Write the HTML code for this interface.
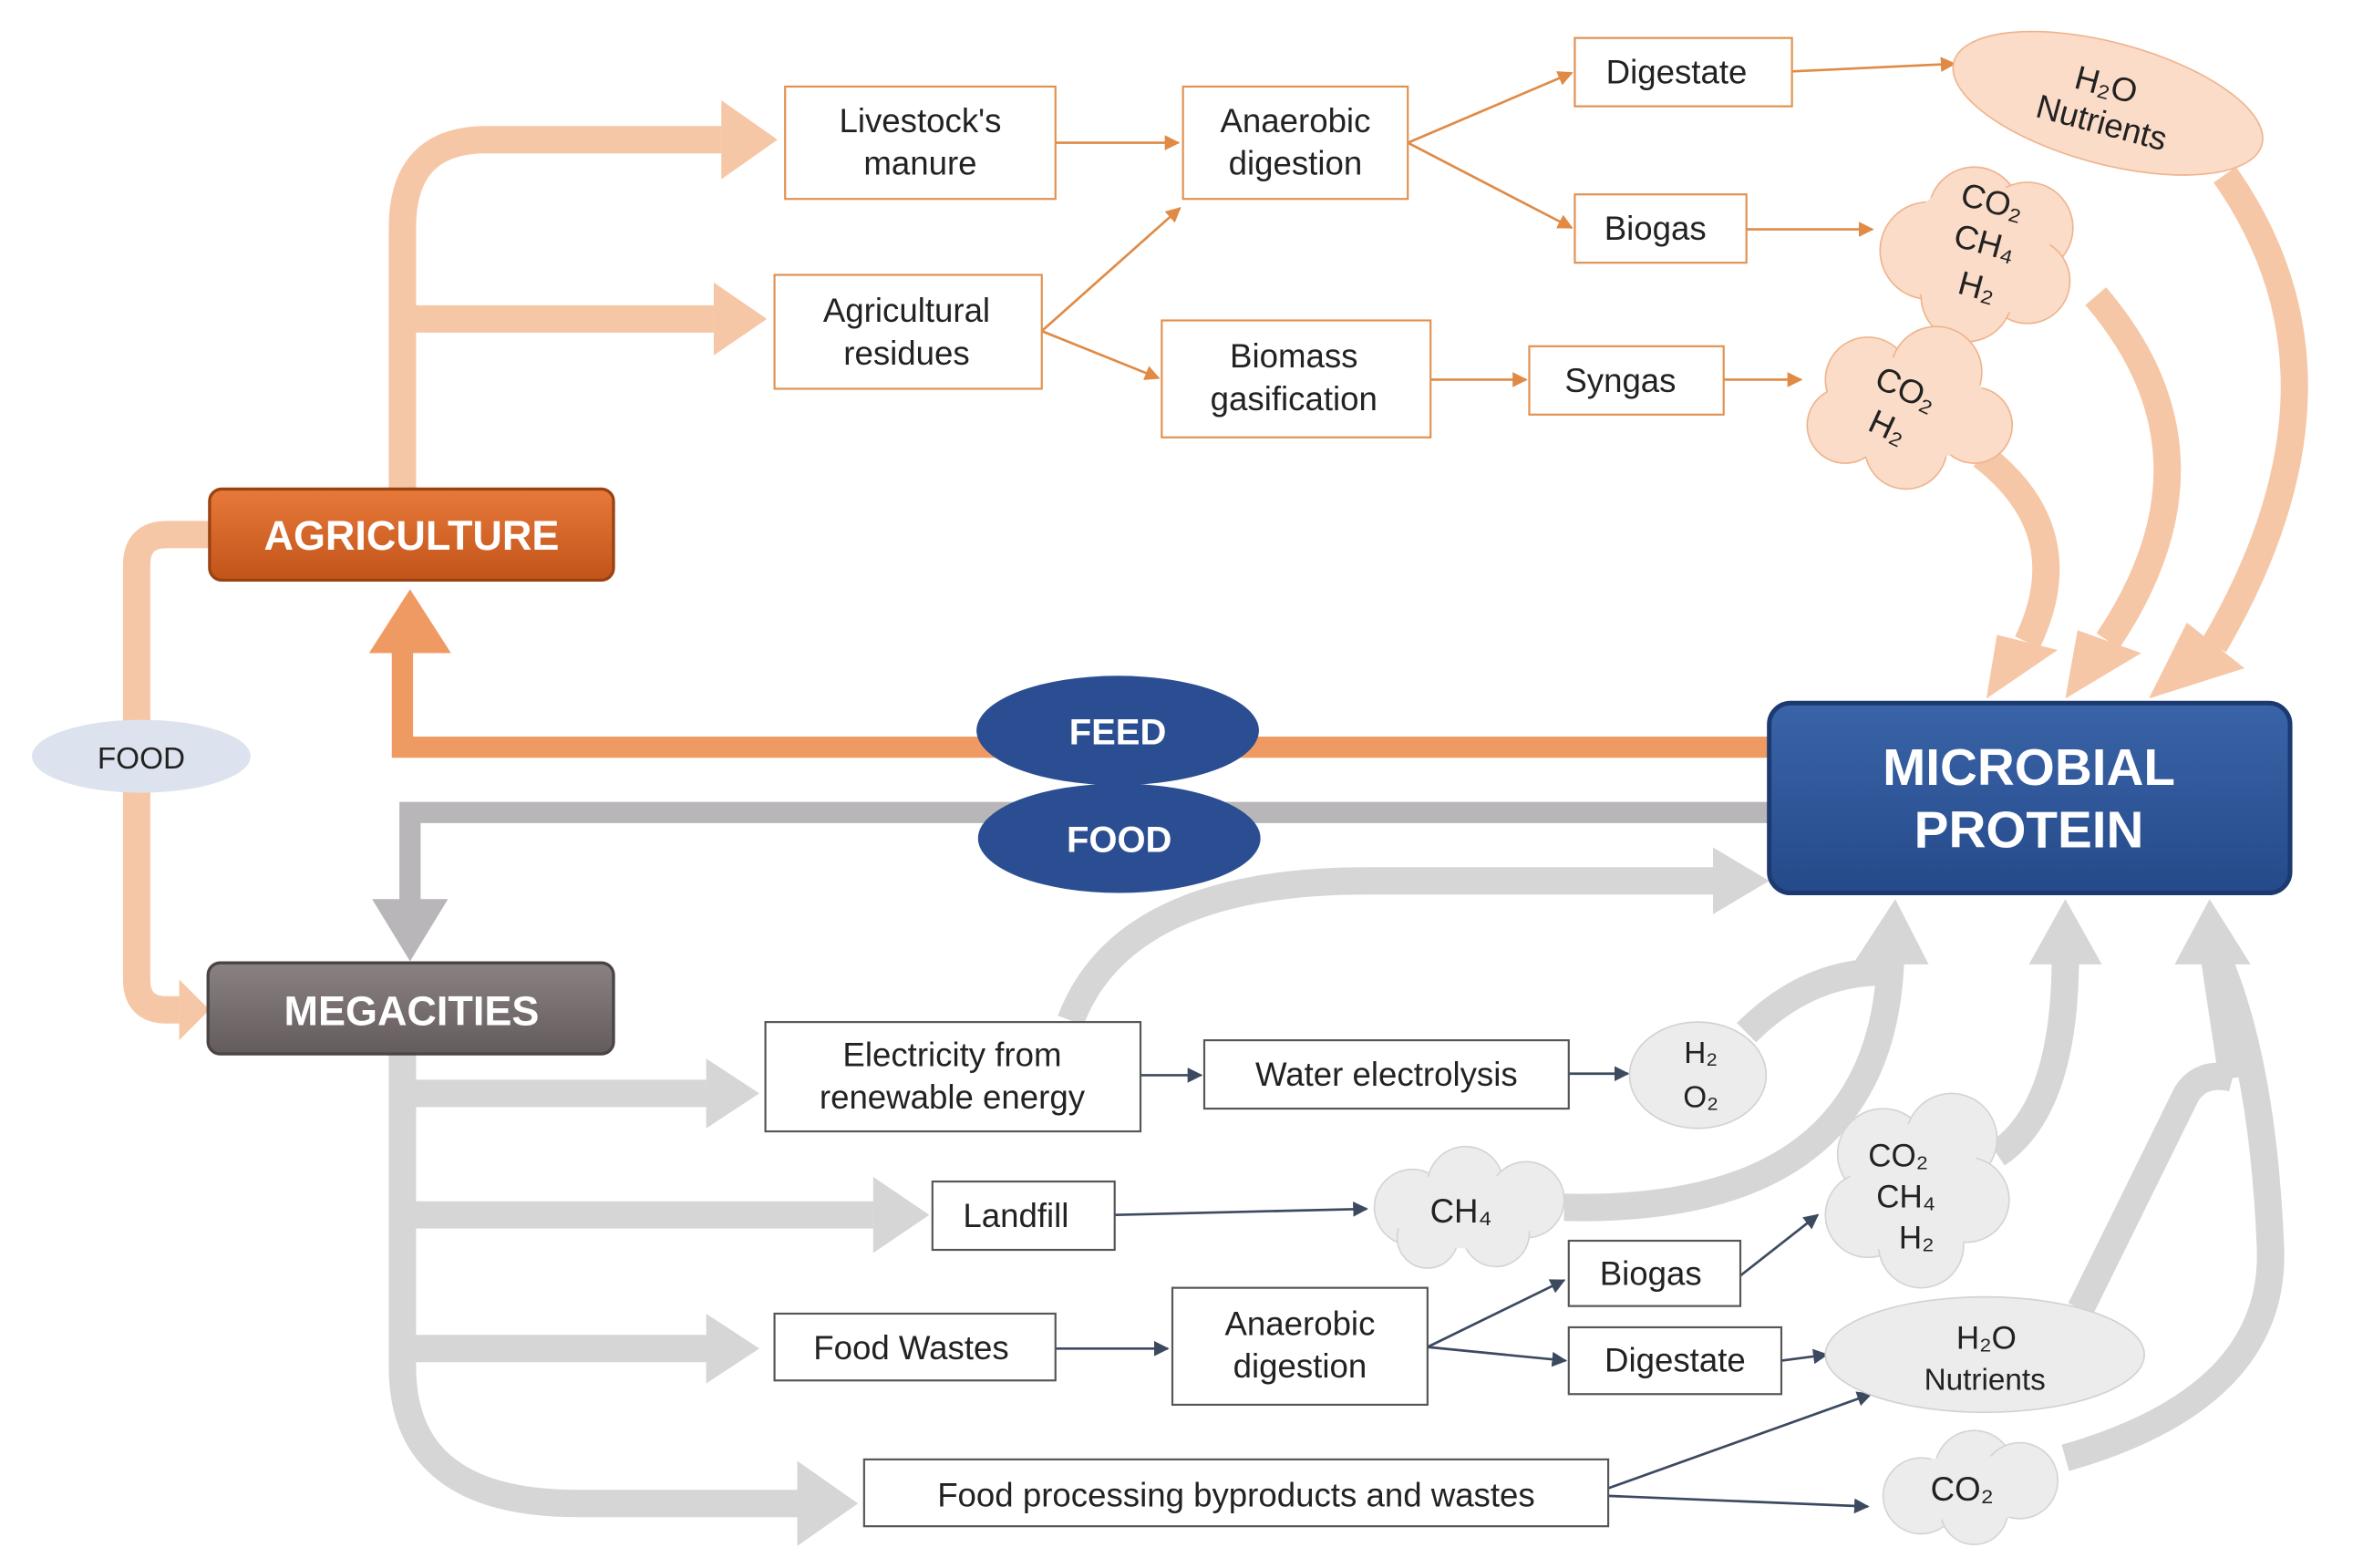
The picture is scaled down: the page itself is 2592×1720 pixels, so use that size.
<!DOCTYPE html>
<html><head><meta charset="utf-8"><style>
html,body{margin:0;padding:0;background:#fff}
svg{display:block}
text{font-family:"Liberation Sans",sans-serif}
.bx{fill:#fff;stroke-width:1.3}
.o{stroke:#e0914f}
.g{stroke:#555}
.t{font-size:22px;fill:#222;text-anchor:middle}
</style></head><body>
<svg width="2592" height="1720" viewBox="0 0 1556 1032.5" preserveAspectRatio="none" xmlns="http://www.w3.org/2000/svg">
<defs>
<marker id="ao" markerWidth="10" markerHeight="10" refX="9" refY="5" orient="auto" markerUnits="userSpaceOnUse"><path d="M0,0L10,5L0,10z" fill="#e08a45"/></marker>
<marker id="ag" markerWidth="10" markerHeight="10" refX="9" refY="5" orient="auto" markerUnits="userSpaceOnUse"><path d="M0,0L10,5L0,10z" fill="#3c4a60"/></marker>
<linearGradient id="gA" x1="0" y1="0" x2="0" y2="1"><stop offset="0" stop-color="#e7793a"/><stop offset="1" stop-color="#c2541a"/></linearGradient>
<linearGradient id="gM" x1="0" y1="0" x2="0" y2="1"><stop offset="0" stop-color="#8a8282"/><stop offset="1" stop-color="#645c5c"/></linearGradient>
<linearGradient id="gB" x1="0" y1="0" x2="0" y2="1"><stop offset="0" stop-color="#3a64a8"/><stop offset="1" stop-color="#254a8a"/></linearGradient>
</defs>

<g fill="none" stroke="#f6c7a6" stroke-width="18">
<path d="M265,322 V150 Q265,92 320,92 H475"/>
<path d="M265,210 H470"/>
<path d="M140,352 H110 Q90,352 90,372 V645 Q90,665 110,665 H118"/>
<path d="M1465,115 Q1560,250 1458,425"/>
<path d="M1380,195 Q1470,300 1388,422"/>
<path d="M1305,300 Q1370,350 1335,423"/>
</g>
<g fill="#f6c7a6">
<polygon points="475,66 512,92 475,118"/>
<polygon points="470,186 505,210 470,234"/>
<polygon points="118,645 138,665 118,685"/>
<polygon points="1415,460 1440,410 1478,440"/>
<polygon points="1360,460 1368,415 1410,430"/>
<polygon points="1308,460 1315,418 1355,428"/>
</g>

<g fill="none" stroke="#d6d6d6" stroke-width="18">
<path d="M265,694 V900 Q265,990 380,990 H525"/>
<path d="M265,720 H465"/>
<path d="M265,800 H575"/>
<path d="M265,888 H465"/>
<path d="M705,672 Q740,580 900,580 H1130"/>
<path d="M1150,680 Q1190,640 1240,640"/>
<path d="M1030,795 Q1240,800 1245,630"/>
<path d="M1315,760 Q1360,730 1360,630"/>
<path d="M1370,862 L1440,720 Q1450,705 1470,710 M1470,710 L1458,630"/>
<path d="M1360,960 Q1500,920 1495,820 Q1490,700 1460,630"/>
</g>
<g fill="#d6d6d6">
<polygon points="525,962 565,990 525,1018"/>
<polygon points="465,697 500,720 465,743"/>
<polygon points="575,775 612,800 575,825"/>
<polygon points="465,865 500,888 465,911"/>
<polygon points="1128,558 1165,580 1128,602"/>
<polygon points="1220,635 1248,592 1270,635"/>
<polygon points="1336,635 1360,592 1384,635"/>
<polygon points="1432,635 1455,592 1482,635"/>
</g>

<path d="M1170,492 H265 V420" fill="none" stroke="#ef9a63" stroke-width="14"/>
<polygon points="243,430 270,388 297,430" fill="#ef9a63"/>
<path d="M1170,535 H270 V600" fill="none" stroke="#b8b6b8" stroke-width="14"/>
<polygon points="245,592 270,633 295,592" fill="#b8b6b8"/>

<rect x="138" y="322" width="266" height="60" rx="8" fill="url(#gA)" stroke="#9b4212" stroke-width="2"/>
<text x="271" y="362" font-size="27" font-weight="bold" fill="#fff" text-anchor="middle">AGRICULTURE</text>
<rect x="137" y="634" width="267" height="60" rx="8" fill="url(#gM)" stroke="#4a4444" stroke-width="2"/>
<text x="271" y="675" font-size="27" font-weight="bold" fill="#fff" text-anchor="middle">MEGACITIES</text>
<rect x="1165" y="463" width="343" height="125" rx="14" fill="url(#gB)" stroke="#1c3a70" stroke-width="3"/>
<text x="1336" y="517" font-size="34" font-weight="bold" fill="#fff" text-anchor="middle">MICROBIAL</text>
<text x="1336" y="558" font-size="34" font-weight="bold" fill="#fff" text-anchor="middle">PROTEIN</text>
<ellipse cx="736" cy="481" rx="93" ry="36" fill="#2b4e92"/>
<text x="736" y="490" font-size="24" font-weight="bold" fill="#fff" text-anchor="middle">FEED</text>
<ellipse cx="737" cy="552" rx="93" ry="36" fill="#2b4e92"/>
<text x="737" y="561" font-size="24" font-weight="bold" fill="#fff" text-anchor="middle">FOOD</text>
<ellipse cx="93" cy="498" rx="72" ry="24" fill="#dde3ee"/>
<text x="93" y="506" font-size="20" fill="#222" text-anchor="middle">FOOD</text>

<g stroke="#e08a45" stroke-width="1.6" fill="none" marker-end="url(#ao)">
<path d="M695,94 H776"/>
<path d="M927,94 L1035,48"/>
<path d="M927,94 L1035,150"/>
<path d="M686,218 L777,137"/>
<path d="M686,218 L763,249"/>
<path d="M942,250 H1005"/>
<path d="M1180,47 L1287,42"/>
<path d="M1150,151 H1233"/>
<path d="M1135,250 H1186"/>
</g>
<g class="t">
<rect class="bx o" x="517" y="57" width="178" height="74"/><text x="606" y="87">Livestock's</text><text x="606" y="115">manure</text>
<rect class="bx o" x="779" y="57" width="148" height="74"/><text x="853" y="87">Anaerobic</text><text x="853" y="115">digestion</text>
<rect class="bx o" x="1037" y="25" width="143" height="45"/><text x="1104" y="55">Digestate</text>
<rect class="bx o" x="1037" y="128" width="113" height="45"/><text x="1090" y="158">Biogas</text>
<rect class="bx o" x="510" y="181" width="176" height="75"/><text x="597" y="212">Agricultural</text><text x="597" y="240">residues</text>
<rect class="bx o" x="765" y="211" width="177" height="77"/><text x="852" y="242">Biomass</text><text x="852" y="270">gasification</text>
<rect class="bx o" x="1007" y="228" width="128" height="45"/><text x="1067" y="258">Syngas</text>
</g>
<ellipse cx="1388" cy="68" rx="105" ry="40" transform="rotate(15 1388 68)" fill="#fbdcc8" stroke="#efb48e"/>
<text x="1385" y="63" class="t" transform="rotate(15 1385 63)">H₂O</text>
<text x="1382" y="88" class="t" transform="rotate(15 1382 88)" font-size="20">Nutrients</text>
<g fill="#fbdcc8" stroke="#efb48e" stroke-width="1">
<circle cx="1300" cy="140" r="30"/><circle cx="1335" cy="150" r="30"/><circle cx="1270" cy="165" r="32"/><circle cx="1335" cy="185" r="28"/><circle cx="1295" cy="195" r="30"/>
<circle cx="1230" cy="250" r="28"/><circle cx="1275" cy="245" r="30"/><circle cx="1300" cy="280" r="25"/><circle cx="1215" cy="280" r="25"/><circle cx="1255" cy="295" r="27"/>
</g>
<g fill="#fbdcc8"><ellipse cx="1302" cy="165" rx="48" ry="45"/><ellipse cx="1255" cy="270" rx="55" ry="35"/></g>
<g class="t" font-size="21">
<text x="1310" y="140" transform="rotate(15 1310 140)">CO₂</text>
<text x="1305" y="167" transform="rotate(15 1305 167)">CH₄</text>
<text x="1300" y="196" transform="rotate(15 1300 196)">H₂</text>
<text x="1252" y="263" transform="rotate(25 1252 263)">CO₂</text>
<text x="1240" y="288" transform="rotate(25 1240 288)">H₂</text>
</g>

<g stroke="#3c4a60" stroke-width="1.6" fill="none" marker-end="url(#ag)">
<path d="M751,708 H791"/>
<path d="M1033,707 H1072"/>
<path d="M734,800 L900,796"/>
<path d="M695,888 H769"/>
<path d="M940,887 L1030,843"/>
<path d="M940,887 L1031,896"/>
<path d="M1146,840 L1197,800"/>
<path d="M1173,896 L1203,892"/>
<path d="M1059,980 L1232,918"/>
<path d="M1059,985 L1230,992"/>
</g>
<g class="t">
<rect class="bx g" x="504" y="673" width="247" height="72"/><text x="627" y="702">Electricity from</text><text x="627" y="730">renewable  energy</text>
<rect class="bx g" x="793" y="685" width="240" height="45"/><text x="913" y="715">Water electrolysis</text>
<rect class="bx g" x="614" y="778" width="120" height="45"/><text x="669" y="808">Landfill</text>
<rect class="bx g" x="1033" y="817" width="113" height="43"/><text x="1087" y="846">Biogas</text>
<rect class="bx g" x="510" y="865" width="185" height="44"/><text x="600" y="895">Food Wastes</text>
<rect class="bx g" x="772" y="848" width="168" height="77"/><text x="856" y="879">Anaerobic</text><text x="856" y="907">digestion</text>
<rect class="bx g" x="1033" y="874" width="140" height="44"/><text x="1103" y="903">Digestate</text>
<rect class="bx g" x="569" y="961" width="490" height="44"/><text x="814" y="992">Food processing byproducts and wastes</text>
</g>
<ellipse cx="1118" cy="708" rx="45" ry="35" fill="#ececec" stroke="#d2d2d2"/>
<ellipse cx="1307" cy="892" rx="105" ry="38" fill="#ececec" stroke="#d2d2d2"/>
<g fill="#ececec" stroke="#d4d4d4">
<circle cx="930" cy="795" r="25"/><circle cx="965" cy="780" r="25"/><circle cx="1005" cy="790" r="25"/><circle cx="985" cy="812" r="22"/><circle cx="940" cy="815" r="20"/>
<circle cx="1240" cy="760" r="30"/><circle cx="1285" cy="750" r="30"/><circle cx="1295" cy="790" r="28"/><circle cx="1230" cy="800" r="28"/><circle cx="1265" cy="820" r="28"/>
<circle cx="1265" cy="985" r="25"/><circle cx="1300" cy="968" r="26"/><circle cx="1330" cy="975" r="25"/><circle cx="1300" cy="995" r="22"/>
</g>
<g fill="#ececec"><ellipse cx="965" cy="797" rx="50" ry="25"/><ellipse cx="1262" cy="785" rx="45" ry="45"/><ellipse cx="1297" cy="980" rx="50" ry="22"/></g>
<g class="t">
<text x="1120" y="700" font-size="20">H₂</text><text x="1120" y="729" font-size="20">O₂</text>
<text x="962" y="805">CH₄</text>
<text x="1250" y="768" font-size="21">CO₂</text><text x="1255" y="795" font-size="21">CH₄</text><text x="1262" y="822" font-size="21">H₂</text>
<text x="1308" y="888" font-size="21">H₂O</text><text x="1307" y="915" font-size="20">Nutrients</text>
<text x="1292" y="988">CO₂</text>
</g>
</svg>
</body></html>
